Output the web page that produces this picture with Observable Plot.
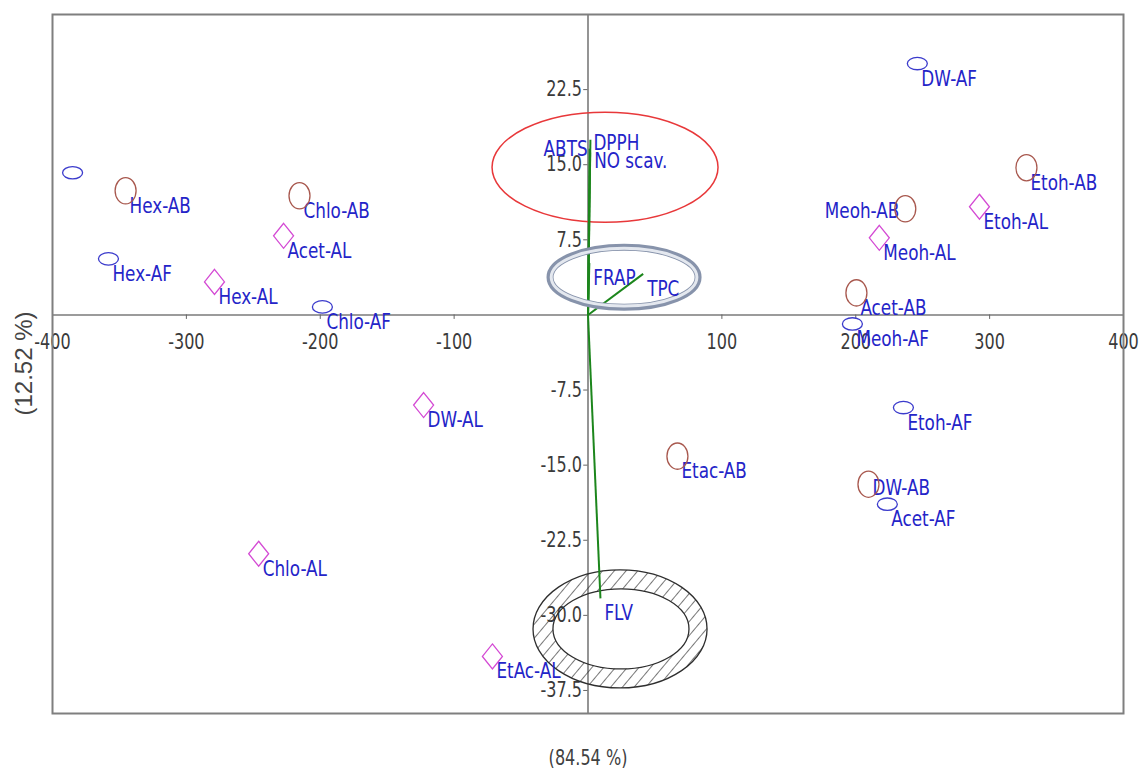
<!DOCTYPE html>
<html><head><meta charset="utf-8">
<script src="https://cdn.jsdelivr.net/npm/d3@7"></script>
<script src="https://cdn.jsdelivr.net/npm/@observablehq/plot@0.6"></script>
<style>body{margin:0;background:#fff} #chart svg{display:block;background:#fff}</style>
</head><body><div id="chart"></div>
<script>
// ---- data (PCA scores, loadings, ticks) ----
const sampleNames = ["", "Hex-AB", "Chlo-AB", "Acet-AL", "Hex-AF", "Hex-AL", "Chlo-AF", "DW-AF", "Etoh-AB", "Meoh-AB", "Etoh-AL", "Meoh-AL", "Acet-AB", "Meoh-AF", "Etoh-AF", "DW-AB", "Acet-AF", "DW-AL", "Etac-AB", "Chlo-AL", "EtAc-AL"];
const sampleX = [-385.0, -345.4, -215.5, -227.4, -358.2, -279.0, -198.4, 246.0, 327.5, 237.0, 292.4, 217.6, 200.5, 197.5, 235.6, 209.5, 223.6, -122.8, 66.8, -246.0, -71.4];
const sampleY = [14.2, 12.4, 11.9, 7.9, 5.6, 3.3, 0.8, 25.1, 14.7, 10.6, 10.8, 7.7, 2.2, -0.9, -9.25, -16.9, -18.9, -9.0, -14.1, -23.85, -34.1];
const sampleGroup = ["AF", "AB", "AB", "AL", "AF", "AL", "AF", "AF", "AB", "AB", "AL", "AL", "AB", "AF", "AF", "AB", "AF", "AL", "AB", "AL", "AL"];

const loadingNames = ["ABTS", "DPPH", "NO scav.", "FRAP", "TPC", "FLV"];
const loadingX = [1.2, 1.8, 1.6, 1.0, 41.2, 9.3];
const loadingY = [16.6, 17.5, 16.2, 5.2, 4.1, -28.3];

const xTickValues = [-400, -300, -200, -100, 100, 200, 300, 400];
const yTickValues = [22.5, 15, 7.5, -7.5, -15, -22.5, -30, -37.5];
const xTitle = "(84.54 %)";
const yTitle = "(12.52 %)";

// annotation ellipses (data units): antioxidant group, FRAP/TPC group, FLV ring (outer / inner)
const ellipseCX = [13.1, 27.3, 24.3, 25.0];
const ellipseCY = [14.7, 3.72, -31.4, -31.4];
const ellipseRX = [84.4, 55.3, 65.0, 50.8];
const ellipseRY = [5.5, 3.0, 5.9, 4.0];

// ---- build ----
const samples = sampleNames.map((name, i) => ({name, x: sampleX[i], y: sampleY[i], group: sampleGroup[i]}));
const loadings = loadingNames.map((name, i) => ({name, x: loadingX[i], y: loadingY[i]}));

const FONT = '"Liberation Sans Narrow","Arial Narrow","DejaVu Sans Condensed","DejaVu Sans",sans-serif';
const LABEL = "#2424c8";
const TICK = "#3a3a3a";
const K = 0.5523;
const NARROW = 0.85;

function ellipseSymbol(ax, by) {
  return {draw(ctx, size) {
    const r = Math.sqrt(size / Math.PI), a = r * ax, b = r * by;
    ctx.moveTo(a, 0);
    ctx.bezierCurveTo(a, K * b, K * a, b, 0, b);
    ctx.bezierCurveTo(-K * a, b, -a, K * b, -a, 0);
    ctx.bezierCurveTo(-a, -K * b, -K * a, -b, 0, -b);
    ctx.bezierCurveTo(K * a, -b, a, -K * b, a, 0);
    ctx.closePath();
  }};
}
const diamondSymbol = {draw(ctx, size) {
  const r = Math.sqrt(size / Math.PI);
  ctx.moveTo(0, -1.25 * r); ctx.lineTo(r, 0); ctx.lineTo(0, 1.25 * r); ctx.lineTo(-r, 0); ctx.closePath();
}};

const special = {
  "Meoh-AB": {textAnchor: "end", dx: -6, dy: 2},
  "DW-AB": {dx: 4, dy: 4},
  "ABTS": {textAnchor: "end", dx: -2, dy: 0},
  "DPPH": {dx: 3, dy: 3},
  "NO scav.": {dx: 4, dy: 8}
};
function labelMarks(data) {
  const base = {x: "x", y: "y", text: "name", textAnchor: "start", fill: LABEL, fontSize: 22, fontFamily: FONT};
  const marks = [Plot.text(data.filter(d => d.name && !special[d.name]), {...base, dx: 4, dy: 15})];
  for (const d of data) if (special[d.name]) marks.push(Plot.text([d], {...base, ...special[d.name]}));
  return marks;
}

function ell(i, X, Y) {
  const cx = X(ellipseCX[i]), cy = Y(ellipseCY[i]);
  const rx = X(ellipseCX[i] + ellipseRX[i]) - cx, ry = cy - Y(ellipseCY[i] + ellipseRY[i]);
  return {cx, cy, rx, ry};
}
function ellPath(e) {
  return `M${e.cx - e.rx},${e.cy}a${e.rx},${e.ry} 0 1,0 ${2 * e.rx},0a${e.rx},${e.ry} 0 1,0 ${-2 * e.rx},0Z`;
}

function ringMark(index, scales) {
  const g = d3.create("svg:g");
  const pat = g.append("defs").append("pattern").attr("id", "hatch")
    .attr("patternUnits", "userSpaceOnUse").attr("width", 9).attr("height", 9)
    .attr("patternTransform", "rotate(40)");
  pat.append("line").attr("x1", 0).attr("y1", 0).attr("x2", 0).attr("y2", 9)
    .attr("stroke", "#2e2e2e").attr("stroke-width", 1.3);
  const o = ell(2, scales.x, scales.y), n = ell(3, scales.x, scales.y);
  g.append("path").attr("d", ellPath(o) + ellPath(n)).attr("fill-rule", "evenodd")
    .attr("fill", "url(#hatch)").attr("stroke", "#2e2e2e").attr("stroke-width", 1.3);
  return g.node();
}
function redMark(index, scales) {
  const e = ell(0, scales.x, scales.y);
  const g = d3.create("svg:g");
  g.append("ellipse").attr("cx", e.cx).attr("cy", e.cy).attr("rx", e.rx).attr("ry", e.ry)
    .attr("fill", "none").attr("stroke", "#e8383a").attr("stroke-width", 1.5);
  return g.node();
}
function grayMark(index, scales) {
  const e = ell(1, scales.x, scales.y);
  const g = d3.create("svg:g");
  g.append("ellipse").attr("cx", e.cx).attr("cy", e.cy).attr("rx", e.rx).attr("ry", e.ry)
    .attr("fill", "none").attr("stroke", "#8793ab").attr("stroke-width", 7);
  g.append("ellipse").attr("cx", e.cx).attr("cy", e.cy).attr("rx", e.rx - 1.2).attr("ry", e.ry - 1.2)
    .attr("fill", "none").attr("stroke", "#e4e8ef").attr("stroke-width", 3);
  return g.node();
}
function yTitleMark(index, scales, values, dims) {
  const cy = (dims.marginTop + dims.height - dims.marginBottom) / 2;
  const g = d3.create("svg:g");
  g.append("text").attr("class", "ytitle")
    .attr("transform", `translate(24,${cy}) rotate(-90)`)
    .attr("text-anchor", "middle").attr("dy", "0.35em")
    .attr("fill", "#444").attr("font-size", 24)
    .attr("font-family", '"Liberation Sans",Arial,sans-serif')
    .text(yTitle);
  return g.node();
}

const chart = Plot.plot({
  width: 1141,
  height: 777,
  marginLeft: 52,
  marginRight: 18,
  marginTop: 14,
  marginBottom: 64,
  x: {domain: [-400, 400], axis: null},
  y: {domain: [-39.8, 30], axis: null},
  style: {fontFamily: FONT, background: "#fff"},
  marks: [
    Plot.ruleY([0], {stroke: "#7a7a7a", strokeWidth: 1.6}),
    Plot.ruleX([0], {stroke: "#7a7a7a", strokeWidth: 1.6}),
    Plot.ruleX(xTickValues, {x: d => d, y1: 0, y2: -0.45, stroke: "#666", strokeWidth: 1}),
    Plot.ruleY(yTickValues, {y: d => d, x1: 0, x2: -3.2, stroke: "#666", strokeWidth: 1}),
    Plot.text(xTickValues, {x: d => d, y: 0, dy: 27, text: d => String(d), fill: TICK, fontSize: 21, fontFamily: FONT}),
    Plot.text(yTickValues, {x: 0, y: d => d, dx: -6, textAnchor: "end", text: d => d.toFixed(1), fill: TICK, fontSize: 21, fontFamily: FONT}),
    ringMark,
    redMark,
    Plot.link(loadings, {x1: 0, y1: 0, x2: "x", y2: "y", stroke: "#1c861c", strokeWidth: 2}),
    grayMark,
    ...labelMarks(loadings),
    ...labelMarks(samples),
    Plot.dot(samples.filter(d => d.group === "AB"), {x: "x", y: "y", r: 10.5, symbol: ellipseSymbol(1, 1.25), stroke: "#a8584e", strokeWidth: 1.3, fill: "none"}),
    Plot.dot(samples.filter(d => d.group === "AF"), {x: "x", y: "y", r: 10, symbol: ellipseSymbol(1, 0.62), stroke: "#3b3bcc", strokeWidth: 1.3, fill: "none"}),
    Plot.dot(samples.filter(d => d.group === "AL"), {x: "x", y: "y", r: 10, symbol: diamondSymbol, stroke: "#d44ad4", strokeWidth: 1.3, fill: "none"}),
    Plot.frame({stroke: "#7f7f7f", strokeWidth: 2}),
    Plot.text([xTitle], {x: 0, frameAnchor: "bottom", dy: 51, text: d => d, fill: "#404040", fontSize: 21, fontFamily: FONT}),
    yTitleMark
  ]
});
// narrow the condensed-looking type of the original (horizontal squeeze around each text's anchor)
chart.querySelectorAll("text").forEach(t => {
  if (t.classList.contains("ytitle")) return;
  const tr = t.getAttribute("transform");
  if (tr && tr.includes("translate")) t.setAttribute("transform", tr + ` scale(${NARROW},1)`);
});
document.getElementById("chart").appendChild(chart);
</script>
</body></html>
